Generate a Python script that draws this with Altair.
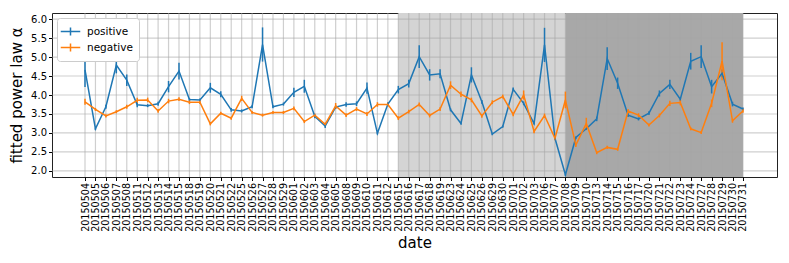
import altair as alt
import pandas as pd
import json

dates = ["20150504","20150505","20150506","20150507","20150508","20150511","20150512","20150513","20150514","20150515",
         "20150518","20150519","20150520","20150521","20150522","20150525","20150526","20150527","20150528","20150529",
         "20150601","20150602","20150603","20150604","20150605","20150608","20150609","20150610","20150611","20150612",
         "20150615","20150616","20150617","20150618","20150619","20150623","20150624","20150625","20150626","20150629",
         "20150630","20150701","20150702","20150703","20150706","20150707","20150708","20150709","20150710","20150713",
         "20150714","20150715","20150716","20150717","20150720","20150721","20150722","20150723","20150724","20150727",
         "20150728","20150729","20150730","20150731"]

positive = [4.66, 3.11, 3.69, 4.79, 4.39, 3.74, 3.72, 3.77, 4.22, 4.63,
            3.88, 3.87, 4.19, 4.02, 3.61, 3.58, 3.69, 5.33, 3.69, 3.76,
            4.07, 4.23, 3.44, 3.18, 3.68, 3.75, 3.77, 4.18, 2.99, 3.76,
            4.14, 4.30, 5.01, 4.53, 4.56, 3.61, 3.25, 4.53, 3.82, 2.97,
            3.17, 4.15, 3.78, 3.25, 5.32, 2.86, 1.90, 2.88, 3.11, 3.37,
            4.96, 4.31, 3.47, 3.37, 3.52, 4.04, 4.28, 3.89, 4.89, 5.01,
            4.22, 4.57, 3.76, 3.63]

negative = [3.82, 3.62, 3.45, 3.56, 3.69, 3.86, 3.87, 3.58, 3.84, 3.89,
            3.81, 3.81, 3.24, 3.52, 3.39, 3.91, 3.54, 3.47, 3.54, 3.54,
            3.65, 3.30, 3.47, 3.23, 3.71, 3.47, 3.63, 3.50, 3.75, 3.75,
            3.39, 3.56, 3.75, 3.46, 3.63, 4.26, 4.02, 3.87, 3.45, 3.81,
            3.96, 3.49, 4.00, 3.04, 3.46, 2.86, 3.87, 2.68, 3.25, 2.48,
            2.62, 2.57, 3.58, 3.47, 3.21, 3.46, 3.78, 3.80, 3.11, 3.01,
            3.78, 4.89, 3.32, 3.58]

positive_err = [0.45, 0.03, 0.05, 0.22, 0.15, 0.06, 0.04, 0.05, 0.15, 0.22,
                0.04, 0.04, 0.13, 0.08, 0.05, 0.04, 0.04, 0.45, 0.04, 0.04,
                0.12, 0.17, 0.05, 0.05, 0.04, 0.06, 0.06, 0.15, 0.03, 0.05,
                0.10, 0.10, 0.30, 0.15, 0.12, 0.04, 0.03, 0.20, 0.05, 0.03,
                0.03, 0.05, 0.05, 0.03, 0.45, 0.03, 0.03, 0.03, 0.03, 0.06,
                0.30, 0.15, 0.05, 0.04, 0.05, 0.08, 0.12, 0.05, 0.22, 0.30,
                0.18, 0.10, 0.06, 0.04]

negative_err = [0.08, 0.04, 0.04, 0.04, 0.05, 0.07, 0.06, 0.05, 0.06, 0.05,
                0.05, 0.05, 0.04, 0.04, 0.04, 0.07, 0.04, 0.04, 0.04, 0.04,
                0.05, 0.04, 0.04, 0.04, 0.08, 0.05, 0.05, 0.05, 0.06, 0.05,
                0.05, 0.05, 0.05, 0.05, 0.05, 0.10, 0.07, 0.06, 0.05, 0.05,
                0.05, 0.05, 0.12, 0.05, 0.05, 0.05, 0.22, 0.05, 0.15, 0.04,
                0.04, 0.04, 0.05, 0.05, 0.04, 0.05, 0.07, 0.07, 0.04, 0.04,
                0.10, 0.50, 0.05, 0.05]

series_names = ["positive", "negative"]
series_colors = ["#1f77b4", "#ff7f0e"]

shade_starts = ["20150615", "20150708"]
shade_ends = ["20150708", "20150731"]
shade_colors = ["#d4d4d4", "#a8a8a8"]

y_ticks = [2.0, 2.5, 3.0, 3.5, 4.0, 4.5, 5.0, 5.5, 6.0]

pos_of = {d: i for i, d in enumerate(dates)}

rows = []
for name, vals, errs in [("positive", positive, positive_err), ("negative", negative, negative_err)]:
    for d, v, e in zip(dates, vals, errs):
        rows.append({"date": d, "i": pos_of[d], "series": name, "value": v, "lo": v - e, "hi": v + e})
df = pd.DataFrame(rows)

FONT = "DejaVu Sans"
xscale = alt.Scale(domain=[-3.16, len(dates) - 1 + 3.26], nice=False, zero=False)
yscale = alt.Scale(domain=[1.84, 6.16], nice=False, zero=False)
cscale = alt.Scale(domain=series_names, range=series_colors)

label_expr = json.dumps(dates) + "[datum.value]"

xaxis = alt.Axis(title="date", values=list(range(len(dates))), labelExpr=label_expr,
                 labelAngle=270, labelFontSize=9.6, labelColor="#000",
                 tickSize=3.5, tickColor="#000", labelPadding=2, domain=False, grid=False,
                 titleFontSize=15, titleFontWeight="normal", titleColor="#000", titlePadding=4,
                 labelFont=FONT, titleFont=FONT, labelOverlap=False, labelBound=False,
                 labelFlush=False, labelBaseline="middle", labelAlign="right")
yaxis = alt.Axis(title="fitted power law α", values=y_ticks, format=".1f", labelFontSize=10,
                 labelColor="#000", tickSize=3.5, tickColor="#000", labelPadding=2, domain=False,
                 grid=False, titleFontSize=15, titleFontWeight="normal", titleColor="#000",
                 titlePadding=6, labelFont=FONT, titleFont=FONT)
legend = alt.Legend(title=None, orient="top-left", offset=5, fillColor="white",
                    strokeColor="#cccccc", cornerRadius=3, padding=6,
                    labelFontSize=10.5, labelFont=FONT, labelColor="#000",
                    symbolType="M-1.5,0H1.5M0,-0.6V0.6", symbolSize=169,
                    symbolStrokeWidth=1.5, rowPadding=1, labelOffset=9)

shades = []
for s, e, c in zip(shade_starts, shade_ends, shade_colors):
    sd = pd.DataFrame({"i": [pos_of[s]], "i2": [pos_of[e]]})
    shades.append(
        alt.Chart(sd).mark_rect(color=c, opacity=1).encode(
            x=alt.X("i:Q", scale=xscale, axis=xaxis),
            x2="i2:Q",
        )
    )

grid_color = "#a7a7a7"
grid_op = 0.54
xgrid = alt.Chart(pd.DataFrame({"i": list(range(len(dates)))})).mark_rule(
    color=grid_color, opacity=grid_op, strokeWidth=1.2
).encode(x=alt.X("i:Q", scale=xscale, axis=xaxis))

ygrid = alt.Chart(pd.DataFrame({"value": y_ticks})).mark_rule(
    color=grid_color, opacity=grid_op, strokeWidth=1.2
).encode(y=alt.Y("value:Q", scale=yscale, axis=yaxis))

errbars = alt.Chart(df).mark_rule(strokeWidth=1.5).encode(
    x=alt.X("i:Q", scale=xscale, axis=xaxis),
    y=alt.Y("lo:Q", scale=yscale, axis=yaxis),
    y2="hi:Q",
    color=alt.Color("series:N", scale=cscale, sort=series_names, legend=legend),
)

lines = alt.Chart(df).mark_line(strokeWidth=1.5).encode(
    x=alt.X("i:Q", scale=xscale, axis=xaxis),
    y=alt.Y("value:Q", scale=yscale, axis=yaxis),
    color=alt.Color("series:N", scale=cscale, sort=series_names, legend=legend),
)

chart = alt.layer(*shades, xgrid, ygrid, errbars, lines).properties(
    width=725, height=164,
    padding={"left": 44, "top": 5, "right": 4, "bottom": 78},
    autosize="none",
).configure_view(stroke="#222222", strokeWidth=1)

chart.save("out.html", embed_options={"renderer": "svg", "actions": False})
